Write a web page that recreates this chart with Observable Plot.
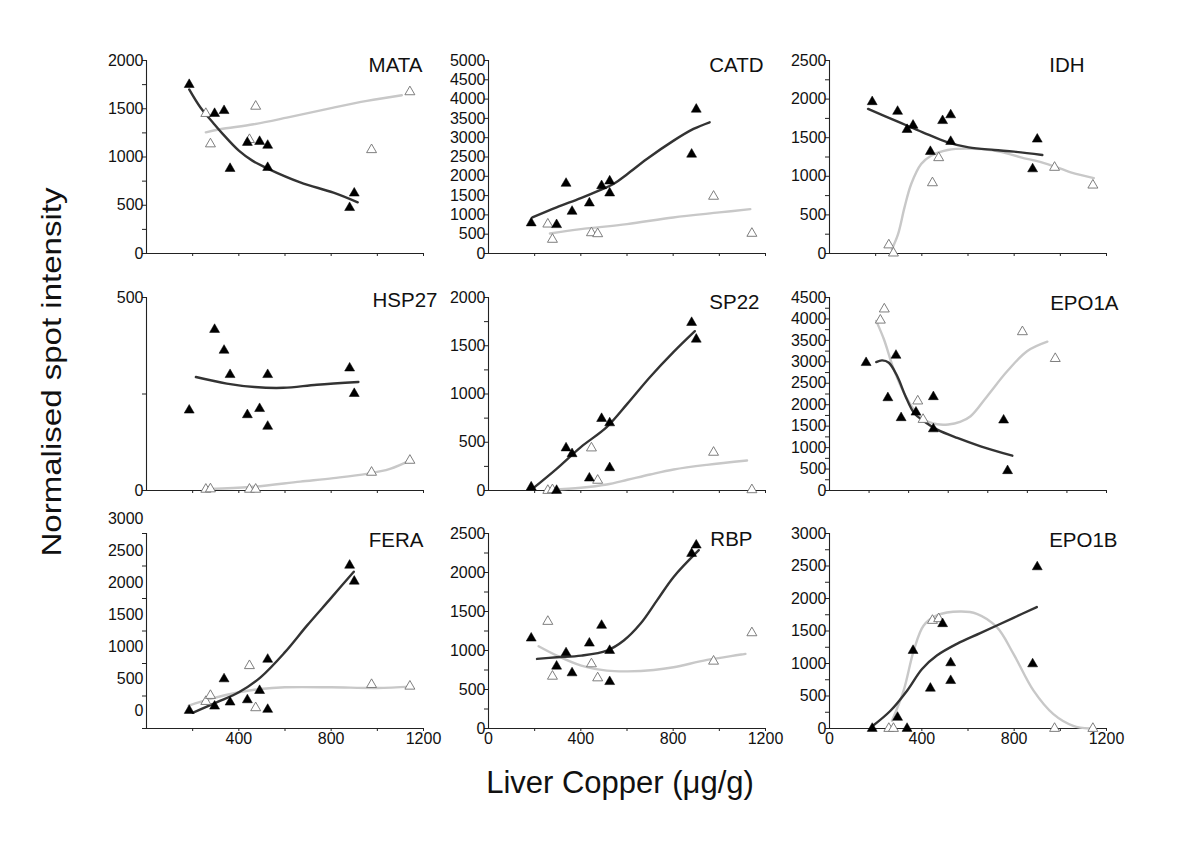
<!DOCTYPE html>
<html><head><meta charset="utf-8">
<script src="https://cdn.jsdelivr.net/npm/d3@7"></script>
<script src="https://cdn.jsdelivr.net/npm/@observablehq/plot@0.6"></script>
<style>
body{margin:0;background:#fff;}
#chart{position:relative;width:1200px;height:849px;background:#fff;font-family:"Liberation Sans",Arial,sans-serif;color:#111;overflow:hidden;}
.panel{position:absolute;}
#ylab{position:absolute;left:52px;top:372px;transform:translate(-50%,-50%) rotate(-90deg) scale(1.18,1);font-size:28px;white-space:nowrap;}
#xlab{position:absolute;left:620px;top:783px;transform:translate(-50%,-50%);font-size:31px;white-space:nowrap;}
</style></head>
<body><div id="chart"><div id="ylab">Normalised spot intensity</div><div id="xlab">Liver Copper (μg/g)</div></div>
<script>
// Liver copper (µg/g) of the samples
const blackCu = [185, 295, 336, 362, 437, 490, 525, 525, 880, 900];
const openCu  = [257, 277, 446, 473, 975, 1141];

// Spot intensities (black = filled triangles, open = open triangles)
const mataBlack  = [1750, 1450, 1480, 880, 1150, 1160, 1120, 890, 475, 625];
const mataOpen   = [1450, 1135, 1180, 1525, 1075, 1675];
const catdBlack  = [790, 745, 1815, 1090, 1305, 1755, 1875, 1565, 2570, 3735];
const catdOpen   = [760, 365, 535, 510, 1480, 520];
const idhBlack   = [1965, 1840, 1605, 1660, 1320, 1720, 1795, 1450, 1095, 1480];
const idhOpen    = [110, 5, 915, 1240, 1115, 885];
const hsp27Black = [208, 417, 363, 300, 196, 212, 300, 166, 317, 251];
const hsp27Open  = [3, 4, 3, 3, 47, 78];
const sp22Black  = [35, 0, 440, 380, 128, 745, 700, 235, 1740, 1567];
const sp22Open   = [0, 7, 440, 105, 395, 7];
const epo1aBlack = [2980, 2160, 3150, 1695, 1825, null, 2185, 1435, 1640, 460];
const epo1aOpen  = [3970, 4230, 2085, 1655, 3700, 3075];
const feraBlack  = [0, 67, 493, 130, 166, 311, 799, 16, 2268, 2019];
const feraOpen   = [140, 234, 700, 42, 405, 379];
const rbpBlack   = [1158, 798, 969, 712, 1093, 1321, 999, 600, 2243, 2350];
const rbpOpen    = [1372, 669, 828, 648, 862, 1226];
const epo1bBlack = [0, 170, 0, 1199, 618, 1611, 1009, 736, 993, 2486];
const epo1bOpen  = [0, 0, 1662, 1688, 0, 0];

// Fitted curves: [copper, intensity]
const mataFitBlack  = [[185,1700],[233,1515],[290,1350],[330,1240],[400,1066],[460,960],[525,880],[666,737],[810,630],[915,530]];
const mataFitOpen   = [[257,1256],[319,1287],[464,1339],[608,1408],[810,1512],[955,1581],[1106,1640]];
const catdFitBlack  = [[190,934],[295,1194],[400,1436],[483,1644],[541,1799],[602,2059],[686,2448],[802,2924],[888,3227],[958,3400]];
const catdFitOpen   = [[266,519],[400,631],[600,761],[800,934],[1000,1064],[1134,1150]];
const idhFitBlack   = [[167,1873],[296,1708],[404,1570],[512,1440],[603,1375],[714,1341],[800,1319],[922,1276]];
const idhFitOpen    = [[270,55],[297,251],[325,597],[354,900],[397,1159],[440,1267],[512,1341],[598,1358],[714,1332],[829,1246],[944,1159],[1045,1051],[1145,977]];
const hsp27FitBlack = [[214,294],[348,277],[468,268],[593,266],[738,274],[918,281]];
const hsp27FitOpen  = [[276,4],[449,9],[666,23],[810,32],[954,43],[1055,56],[1142,78]];
const sp22FitBlack  = [[190,17],[295,225],[400,450],[512,657],[602,900],[700,1176],[802,1436],[894,1651]];
const sp22FitOpen   = [[266,7],[400,28],[512,62],[602,111],[700,166],[802,218],[946,266],[1120,311]];
const epo1aFitBlack = [[236,2995],[266,3034],[300,2980],[342,2668],[384,2200],[427,1810],[477,1615],[545,1420],[646,1225],[764,1030],[924,811]];
const epo1aFitOpen  = [[236,3955],[275,3526],[325,2824],[376,2278],[427,1888],[477,1654],[545,1545],[600,1540],[660,1600],[713,1732],[797,2200],[899,2785],[1000,3253],[1101,3471]];
const feraFitBlack  = [[200,-36],[306,130],[400,285],[494,519],[599,908],[696,1330],[800,1760],[898,2169]];
const feraFitOpen   = [[183,78],[277,182],[400,285],[494,337],[599,363],[800,363],[999,353],[1144,374]];
const rbpFitBlack   = [[210,892],[296,913],[402,935],[513,999],[586,1128],[658,1342],[730,1642],[802,1943],[911,2286]];
const rbpFitOpen    = [[217,1055],[296,935],[402,806],[513,742],[603,733],[716,750],[802,785],[947,879],[1113,956]];
const epo1bFitBlack = [[184,31],[264,273],[336,582],[401,916],[465,1122],[552,1302],[653,1467],[797,1703],[898,1868]];
const epo1bFitOpen  = [[271,118],[321,582],[365,1199],[408,1585],[465,1740],[566,1800],[638,1765],[725,1559],[797,1148],[884,582],[970,221],[1056,41],[1128,0]];

// Axis tick labels
const mataTicks  = [0, 500, 1000, 1500, 2000];
const catdTicks  = [0, 500, 1000, 1500, 2000, 2500, 3000, 3500, 4000, 4500, 5000];
const idhTicks   = [0, 500, 1000, 1500, 2000, 2500];
const hsp27Ticks = [0, 500];
const sp22Ticks  = [0, 500, 1000, 1500, 2000];
const epo1aTicks = [0, 500, 1000, 1500, 2000, 2500, 3000, 3500, 4000, 4500];
const feraTicks  = [0, 500, 1000, 1500, 2000, 2500, 3000];
const rbpTicks   = [0, 500, 1000, 1500, 2000, 2500];
const epo1bTicks = [0, 500, 1000, 1500, 2000, 2500, 3000];
const copperLabels = [0, 400, 800, 1200];
const feraCopperLabels = [400, 800, 1200];

// Layout
const ML = 60, MR = 34, MT = 30, MB = 34;
const colX0 = [146, 488, 829], frameW = 277;
const rowTop = [60, 297, 533], frameH = [193, 193, 195];
const TICK_FONT = 16;

const panels = [
  {name:"MATA",  row:0, col:0, yDomain:[0,2000], ticks:mataTicks,  minor:250, black:mataBlack,  open:mataOpen,  fb:mataFitBlack,  fo:mataFitOpen,  dx:-1,  dy:5},
  {name:"CATD",  row:0, col:1, yDomain:[0,5000], ticks:catdTicks,  minor:500, black:catdBlack,  open:catdOpen,  fb:catdFitBlack,  fo:catdFitOpen,  dx:-2,  dy:5},
  {name:"IDH",   row:0, col:2, yDomain:[0,2500], ticks:idhTicks,   minor:250, black:idhBlack,   open:idhOpen,   fb:idhFitBlack,   fo:idhFitOpen,   dx:-22, dy:5},
  {name:"HSP27", row:1, col:0, yDomain:[0,500],  ticks:hsp27Ticks, minor:250, black:hsp27Black, open:hsp27Open, fb:hsp27FitBlack, fo:hsp27FitOpen, dx:14,  dy:3},
  {name:"SP22",  row:1, col:1, yDomain:[0,2000], ticks:sp22Ticks,  minor:250, black:sp22Black,  open:sp22Open,  fb:sp22FitBlack,  fo:sp22FitOpen,  dx:-6,  dy:5},
  {name:"EPO1A", row:1, col:2, yDomain:[0,4500], ticks:epo1aTicks, minor:250, black:epo1aBlack, open:epo1aOpen, fb:epo1aFitBlack, fo:epo1aFitOpen, dx:12,  dy:6, xDomain:[0,1400]},
  {name:"FERA",  row:2, col:0, yDomain:[-281,2766], ticks:feraTicks, minorCount:6, black:feraBlack, open:feraOpen, fb:feraFitBlack, fo:feraFitOpen, dx:0, dy:7, xLabels:feraCopperLabels},
  {name:"RBP",   row:2, col:1, yDomain:[0,2500], ticks:rbpTicks,   minor:250, black:rbpBlack,   open:rbpOpen,   fb:rbpFitBlack,   fo:rbpFitOpen,   dx:-13, dy:6, xLabels:copperLabels},
  {name:"EPO1B", row:2, col:2, yDomain:[0,3000], ticks:epo1bTicks, minor:250, black:epo1bBlack, open:epo1bOpen, fb:epo1bFitBlack, fo:epo1bFitOpen, dx:11,  dy:7, xLabels:copperLabels}
];

const chart = document.getElementById("chart");
const fmt = d => String(d);
const blank = () => "";

for (const p of panels) {
  const xDomain = p.xDomain || [0, 1200];
  const [y0, y1] = p.yDomain;
  const h = frameH[p.row];
  const minorTicks = p.minorCount
    ? d3.range(p.minorCount + 1).map(i => y0 + i * (y1 - y0) / p.minorCount)
    : d3.range(y0, y1 + 1e-9, p.minor);
  const blackData = blackCu.map((cu, i) => ({cu, v: p.black[i]})).filter(d => d.v != null);
  const openData = openCu.map((cu, i) => ({cu, v: p.open[i]}));
  const marks = [
    Plot.ruleX([xDomain[0]], {stroke: "#222", strokeWidth: 1.1}),
    Plot.ruleY([y0], {stroke: "#222", strokeWidth: 1.1}),
    Plot.axisY(minorTicks, {tickSize: 4, tickFormat: blank, label: null, stroke: "#222"}),
    Plot.text(p.ticks, {y: d => d, frameAnchor: "left", textAnchor: "end", lineAnchor: "middle", dx: -3, text: fmt, fontSize: TICK_FONT, fill: "#111"}),
    Plot.axisX(d3.range(200, xDomain[1] + 1, 200), {tickSize: 3, tickFormat: blank, label: null, stroke: "#222"}),
    Plot.line(p.fo, {x: d => d[0], y: d => d[1], stroke: "#c8c8c8", strokeWidth: 2.4, curve: "catmull-rom"}),
    Plot.line(p.fb, {x: d => d[0], y: d => d[1], stroke: "#333", strokeWidth: 2.4, curve: "catmull-rom"}),
    Plot.dot(openData, {x: "cu", y: "v", symbol: "triangle", r: 3.7, fill: "white", stroke: "#707070", strokeWidth: 0.9}),
    Plot.dot(blackData, {x: "cu", y: "v", symbol: "triangle", r: 3.7, fill: "black", stroke: "black", strokeWidth: 0.5}),
    Plot.text([p.name], {frameAnchor: "top-right", dx: p.dx, dy: p.dy, lineAnchor: "middle", fontSize: 20.5, fill: "#111"})
  ];
  if (p.xLabels) {
    marks.push(Plot.text(p.xLabels, {x: d => d, frameAnchor: "bottom", textAnchor: "middle", lineAnchor: "top", dy: 4, text: fmt, fontSize: TICK_FONT, fill: "#111"}));
  }
  const W = ML + frameW + MR, H = MT + h + MB;
  const svg = Plot.plot({
    width: W, height: H,
    marginLeft: ML, marginRight: MR, marginTop: MT, marginBottom: MB,
    x: {domain: xDomain},
    y: {domain: p.yDomain},
    style: {background: "transparent", overflow: "visible", fontFamily: "'Liberation Sans', Arial, sans-serif", fontSize: "16px", color: "#222", maxWidth: "none"},
    marks
  });
  const div = document.createElement("div");
  div.className = "panel";
  div.style.left = (colX0[p.col] - ML) + "px";
  div.style.top = (rowTop[p.row] - MT) + "px";
  div.style.width = W + "px";
  div.appendChild(svg);
  chart.appendChild(div);
}
</script></body></html>
